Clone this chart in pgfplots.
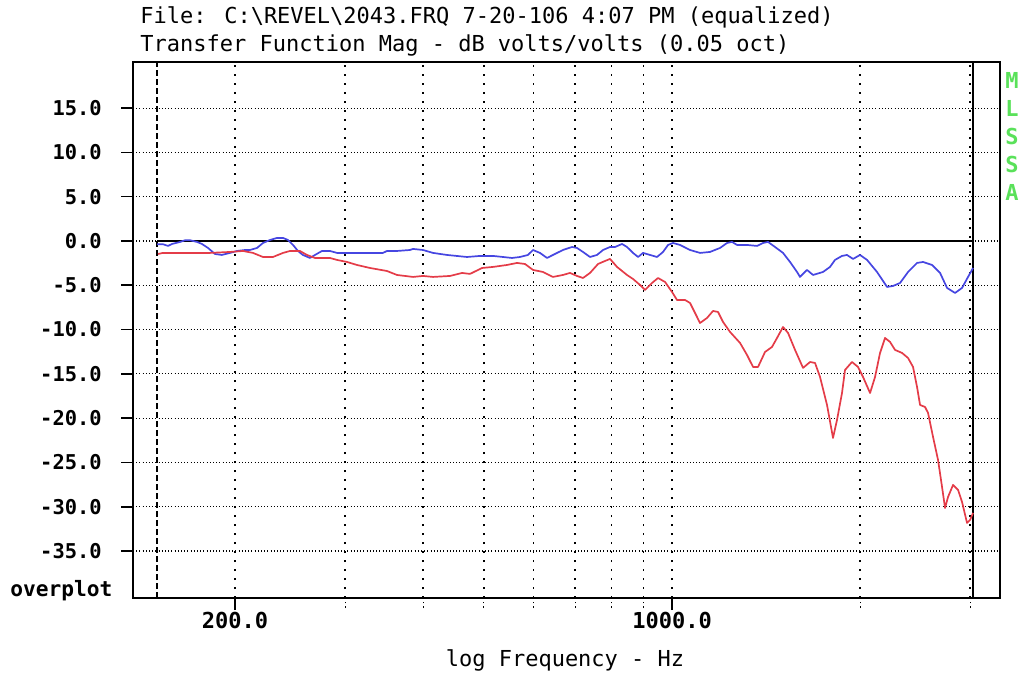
\documentclass[border=0pt]{standalone}
\usepackage{pgfplots}
\pgfplotsset{compat=1.18}
\usepackage{fontspec}
\setmainfont{DejaVu Sans Mono}
\definecolor{cblue}{RGB}{70,70,225}
\definecolor{cred}{RGB}{228,60,72}
\definecolor{mgreen}{RGB}{90,225,90}
\newcommand\tfont{\fontsize{11}{13}\selectfont}
\begin{document}
\begin{tikzpicture}
\useasboundingbox (0,0) rectangle (510pt,337.5pt);
\begin{axis}[
  at={(66.5pt,38.5pt)}, anchor=south west,
  width=433.5pt, height=268pt, scale only axis,
  xmode=log, log basis x=10,
  xmin=137.3, xmax=3348, ymin=-40.3, ymax=20.2,
  xtick={200,1000}, xticklabels={200.0,1000.0},
  minor xtick={300,400,500,600,700,800,900,2000,3000},
  ytick={-35,-30,-25,-20,-15,-10,-5,0,5,10,15},
  yticklabels={-35.0,-30.0,-25.0,-20.0,-15.0,-10.0,-5.0,0.0,5.0,10.0,15.0},
  tick align=outside,
  major tick length=6pt, minor tick length=5pt,
  xtick pos=bottom, ytick pos=left,
  xticklabel style={font=\bfseries\tfont, inner sep=0pt, anchor=north, yshift=-1pt},
  yticklabel style={font=\bfseries\fontsize{10.2}{12}\selectfont, inner sep=0pt, anchor=east, xshift=-9.5pt},
  axis line style={line width=0.9pt},
  every tick/.style={black, line width=0.8pt},
  minor tick style={black, line width=0.6pt, dash pattern=on 0.8pt off 1.5pt},
  ymajorgrids, xmajorgrids, xminorgrids,
  y grid style={black, line width=0.55pt, dash pattern=on 0.5pt off 1.1pt},
  x grid style={black, line width=0.8pt, dash pattern=on 0.8pt off 3.7pt},
  minor x grid style={black, line width=0.8pt, dash pattern=on 0.8pt off 3.7pt},
  clip=false,
]
% reference lines
\addplot[black, line width=0.9pt] coordinates {(150,0) (3031,0)};
\addplot[black, line width=0.8pt, dash pattern=on 3pt off 1.5pt] coordinates {(150,-40.3) (150,20.2)};
\addplot[black, line width=0.8pt] coordinates {(3031,-40.3) (3031,20.2)};
% blue curve
\addplot[cblue, line width=0.85pt, line join=round] coordinates {
(150.0,-0.37) (153.3,-0.37) (156.2,-0.56) (158.5,-0.34) (163.3,-0.11) (166.3,0.08)
(169.4,0.08) (173.8,-0.11) (177.0,-0.34) (181.0,-0.79) (185.7,-1.47) (190.5,-1.58)
(196.3,-1.35) (201.4,-1.13) (207.4,-1.02) (211.2,-1.02) (216.8,-0.79) (221.6,-0.23)
(227.4,0.11) (233.3,0.34) (238.6,0.34) (243.0,0.11) (247.5,-0.45) (252.1,-1.13)
(256.7,-1.58) (263.5,-1.92) (268.4,-1.58) (275.4,-1.13) (283.6,-1.13) (291.1,-1.35)
(302.0,-1.35) (320.3,-1.35) (344.8,-1.35) (349.9,-1.13) (363.1,-1.13) (380.9,-1.02)
(385.2,-0.90) (399.6,-1.02) (414.6,-1.35) (436.5,-1.58) (469.9,-1.81) (492.9,-1.69)
(517.2,-1.69) (536.6,-1.81) (554.6,-1.92) (571.2,-1.81) (588.2,-1.58) (599.2,-1.02)
(614.9,-1.35) (631.0,-1.92) (644.9,-1.58) (669.1,-1.02) (691.8,-0.68) (704.7,-0.79)
(720.4,-1.24) (739.3,-1.81) (758.6,-1.58) (775.6,-1.02) (795.9,-0.68) (810.7,-0.68)
(831.8,-0.34) (847.2,-0.68) (866.2,-1.35) (882.4,-1.81) (898.8,-1.35) (922.2,-1.58)
(946.2,-1.81) (967.4,-1.24) (985.4,-0.45) (1003.7,-0.23) (1029.9,-0.45) (1068.6,-1.02)
(1108.7,-1.35) (1150.2,-1.24) (1193.4,-0.79) (1224.6,-0.23) (1247.4,-0.11) (1270.6,-0.45)
(1318.3,-0.45) (1367.7,-0.56) (1398.3,-0.23) (1424.3,-0.11) (1461.5,-0.68) (1505.2,-1.35)
(1544.6,-2.37) (1584.9,-3.50) (1602.5,-4.06) (1644.4,-3.27) (1681.1,-3.84) (1744.3,-3.50)
(1789.8,-2.93) (1823.1,-2.14) (1870.7,-1.69) (1905.5,-1.58) (1948.1,-2.03) (1999.0,-1.58)
(2051.2,-2.14) (2128.1,-3.50) (2208.0,-5.19) (2257.4,-5.08) (2316.4,-4.74) (2385.6,-3.50)
(2466.0,-2.48) (2521.2,-2.37) (2606.2,-2.71) (2684.2,-3.61) (2754.2,-5.30) (2836.6,-5.87)
(2910.7,-5.30) (2975.8,-4.06) (3031.3,-3.05)
};
% red curve
\addplot[cred, line width=0.85pt, line join=round] coordinates {
(150.5,-1.47) (153.3,-1.35) (182.3,-1.35) (196.3,-1.24) (205.9,-1.13) (213.6,-1.35)
(221.6,-1.81) (229.9,-1.81) (238.6,-1.35) (244.8,-1.13) (253.9,-1.13) (260.6,-1.58)
(268.4,-1.92) (276.4,-1.92) (283.6,-1.92) (291.1,-2.14) (302.0,-2.37) (313.3,-2.71)
(328.7,-3.05) (349.9,-3.39) (363.1,-3.84) (385.2,-4.06) (399.6,-3.95) (414.6,-4.06)
(441.4,-3.95) (461.3,-3.61) (475.1,-3.72) (496.6,-3.05) (517.2,-2.93) (544.5,-2.71)
(564.9,-2.48) (581.8,-2.60) (599.2,-3.27) (621.7,-3.50) (644.9,-4.06) (669.1,-3.84)
(686.6,-3.61) (704.7,-3.95) (720.4,-4.18) (739.3,-3.61) (761.4,-2.60) (781.3,-2.26)
(795.9,-2.03) (816.6,-2.93) (847.2,-3.84) (866.2,-4.29) (888.9,-4.97) (905.4,-5.53)
(929.0,-4.74) (949.7,-4.18) (974.6,-4.63) (1000.0,-5.76) (1018.6,-6.66) (1049.0,-6.66)
(1068.6,-7.00) (1088.5,-8.13) (1108.7,-9.26) (1137.6,-8.69) (1163.0,-7.90) (1184.6,-8.01)
(1206.7,-9.14) (1238.2,-10.27) (1284.7,-11.51) (1318.3,-12.87) (1347.8,-14.22) (1372.8,-14.22)
(1408.6,-12.53) (1445.4,-11.96) (1472.3,-10.95) (1505.2,-9.71) (1533.2,-10.38) (1573.3,-12.30)
(1620.3,-14.33) (1662.7,-13.66) (1693.6,-13.77) (1725.1,-15.35) (1770.1,-18.51) (1809.7,-22.23)
(1836.5,-20.20) (1870.7,-17.16) (1891.5,-14.56) (1940.9,-13.66) (1984.3,-14.22) (2021.2,-15.35)
(2074.0,-17.16) (2112.6,-15.35) (2151.8,-12.64) (2191.8,-10.95) (2232.5,-11.40) (2274.1,-12.30)
(2333.5,-12.64) (2385.6,-13.21) (2430.0,-14.22) (2466.0,-16.48) (2493.5,-18.51) (2539.8,-18.74)
(2568.0,-19.41) (2615.8,-22.12) (2664.4,-24.72) (2704.0,-27.77) (2734.1,-30.14) (2764.4,-28.89)
(2815.8,-27.54) (2868.1,-28.10) (2910.7,-29.46) (2964.8,-31.83) (2997.9,-31.49) (3031.3,-30.70)
};
\end{axis}
% titles and labels
\node[anchor=west, inner sep=0pt, font=\tfont] at (70pt,329pt) {File: C:\textbackslash REVEL\textbackslash 2043.FRQ 7-20-106 4:07 PM (equalized)};
\node[anchor=west, inner sep=0pt, font=\tfont] at (70pt,315pt) {Transfer Function Mag - dB volts/volts (0.05 oct)};
\node[anchor=center, inner sep=0pt, font=\tfont] at (282.5pt,7.5pt) {log Frequency - Hz};
\node[anchor=west, inner sep=0pt, font=\bfseries\fontsize{10.6}{12}\selectfont] at (5pt,42pt) {overplot};
\foreach \l/\y in {M/297.5, L/283.5, S/269.5, S/255.5, A/241.5}
  \node[anchor=center, inner sep=0pt, text=mgreen, font=\bfseries\tfont] at (506pt,\y pt) {\l};
\end{tikzpicture}
\end{document}
